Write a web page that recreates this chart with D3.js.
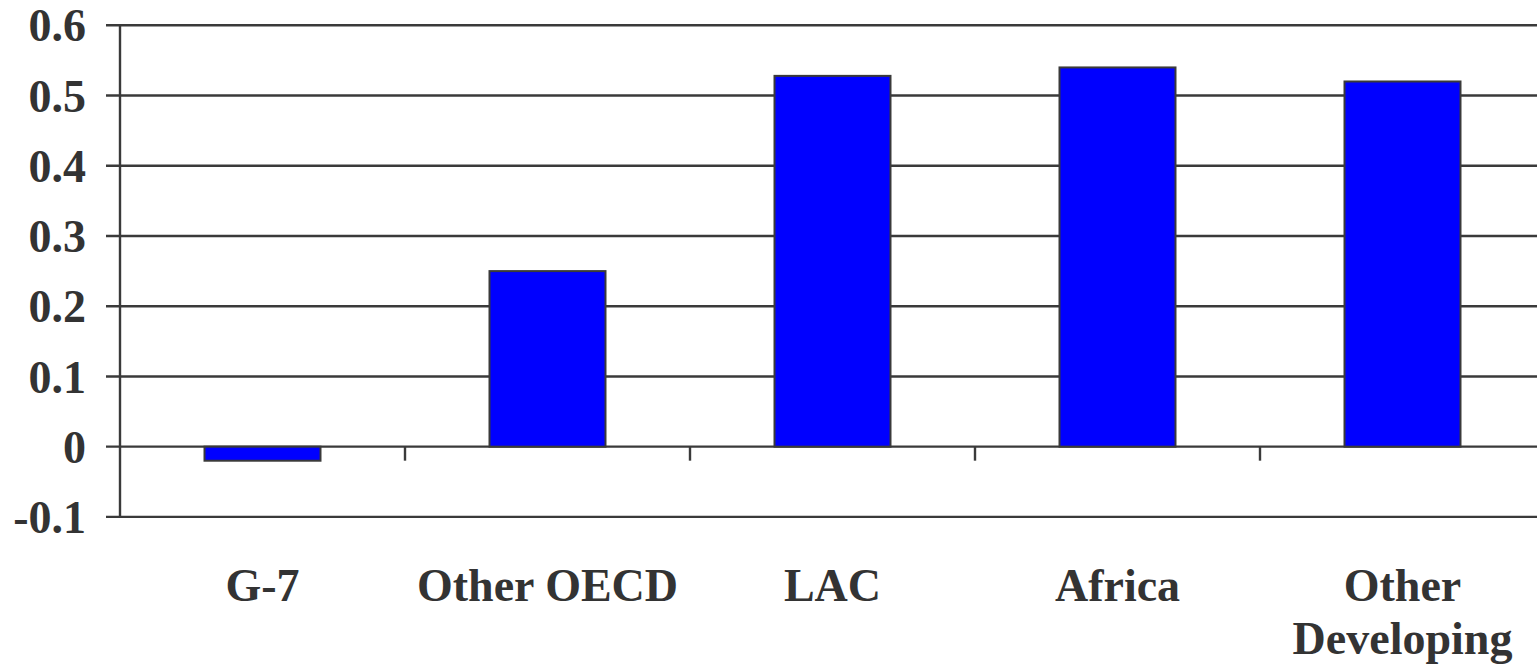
<!DOCTYPE html>
<html>
<head>
<meta charset="utf-8">
<script src="https://cdn.jsdelivr.net/npm/d3@7"></script>
<style>
  html, body { margin: 0; padding: 0; background: #fff; overflow: hidden; }
  svg { display: block; }
  text { font-family: "Liberation Serif", "Times New Roman", serif; font-weight: bold; fill: #333; }
</style>
</head>
<body>
<svg id="chart" width="1537" height="667"></svg>
<script>
// Regions and their values
const categories = ["G-7", "Other OECD", "LAC", "Africa", "Other Developing"];
const values = [-0.02, 0.25, 0.528, 0.54, 0.52];
const yTicks = [-0.1, 0, 0.1, 0.2, 0.3, 0.4, 0.5, 0.6];
const yTickLabels = ["-0.1", "0", "0.1", "0.2", "0.3", "0.4", "0.5", "0.6"];

const svg = d3.select("#chart");
const plotLeft = 120, plotRight = 1545, plotTop = 25.3, plotBottom = 516.9;

const y = d3.scaleLinear().domain([-0.1, 0.6]).range([plotBottom, plotTop]);
const pad = 0.593;
const x = d3.scaleBand().domain(categories).range([plotLeft, plotRight])
  .paddingInner(pad).paddingOuter(pad / 2);

const lineColor = "#3a3a3a";

// Horizontal gridlines (including the bottom edge at -0.1)
svg.append("g").selectAll("line").data(yTicks).join("line")
  .attr("x1", 106).attr("x2", plotRight)
  .attr("y1", d => y(d)).attr("y2", d => y(d))
  .attr("stroke", lineColor).attr("stroke-width", 2.4);

// Vertical axis line
svg.append("line")
  .attr("x1", plotLeft).attr("x2", plotLeft)
  .attr("y1", y(0.6)).attr("y2", y(-0.1))
  .attr("stroke", lineColor).attr("stroke-width", 2.4);

// Y tick labels
svg.append("g").selectAll("text").data(yTicks).join("text")
  .attr("x", 86).attr("y", d => y(d))
  .attr("dy", "0.35em")
  .attr("text-anchor", "end")
  .attr("font-size", 46)
  .text((d, i) => yTickLabels[i]);

// Bars
svg.append("g").selectAll("rect").data(values).join("rect")
  .attr("x", (d, i) => x(categories[i]))
  .attr("width", x.bandwidth())
  .attr("y", d => y(Math.max(0, d)))
  .attr("height", d => Math.abs(y(d) - y(0)))
  .attr("fill", "#0000ff")
  .attr("stroke", "#3a3a3a")
  .attr("stroke-width", 2);

// Category boundary ticks on the zero line
const boundaries = categories.slice(1).map(c => x(c) - x.step() * pad / 2);
svg.append("g").selectAll("line").data(boundaries).join("line")
  .attr("x1", d => d).attr("x2", d => d)
  .attr("y1", y(0)).attr("y2", y(0) + 14)
  .attr("stroke", lineColor).attr("stroke-width", 2.4);

// Category labels (wrapped onto two lines where needed)
const labelLines = { "Other Developing": ["Other", "Developing"] };
const lab = svg.append("g").selectAll("text").data(categories).join("text")
  .attr("x", d => x(d) + x.bandwidth() / 2)
  .attr("y", 601)
  .attr("text-anchor", "middle")
  .attr("font-size", 46);
lab.each(function(d) {
  const lines = labelLines[d] || [d];
  const t = d3.select(this);
  lines.forEach((ln, i) => {
    t.append("tspan").attr("x", x(d) + x.bandwidth() / 2)
      .attr("dy", i === 0 ? 0 : 53).text(ln);
  });
});
</script>
</body>
</html>
